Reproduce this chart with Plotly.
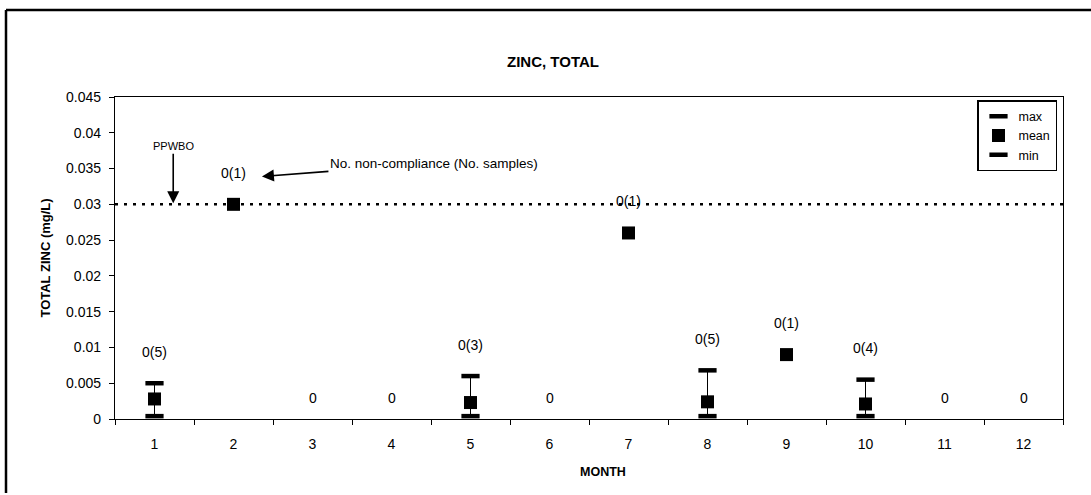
import plotly.graph_objects as go

# Monthly total zinc summary (mg/L)
months = list(range(1, 13))
zinc_max = [0.005, None, None, None, 0.006, None, None, 0.0068, None, 0.0055, None, None]
zinc_mean = [0.0028, 0.030, None, None, 0.0023, None, 0.026, 0.0024, 0.009, 0.0021, None, None]
zinc_min = [0.0004, None, None, None, 0.0004, None, None, 0.0004, None, 0.0004, None, None]
count_labels = ["0(5)", "0(1)", "0", "0", "0(3)", "0", "0(1)", "0(5)", "0(1)", "0(4)", "0", "0"]
ppwbo_limit = 0.03

FONT = "Liberation Sans, Arial, sans-serif"
L, R, T, B = 115, 28, 97, 76
W, H = 1091, 495
PW, PH = W - L - R, H - T - B

# error bar spans from min to max around the mean
err_plus = [(mx - mn) if (mx is not None and mn is not None) else 0
            for mx, mn in zip(zinc_max, zinc_mean)]
err_minus = [(mn - lo) if (mn is not None and lo is not None) else 0
             for mn, lo in zip(zinc_mean, zinc_min)]

fig = go.Figure()

fig.add_trace(go.Scatter(
    x=months, y=zinc_max, mode="markers", name="max",
    marker=dict(symbol="line-ew", size=13, line=dict(width=4.5, color="black")),
))
fig.add_trace(go.Scatter(
    x=months, y=zinc_mean, mode="markers", name="mean",
    marker=dict(symbol="square", size=13, color="black"),
    error_y=dict(type="data", symmetric=False, array=err_plus, arrayminus=err_minus,
                 color="black", thickness=1, width=0),
))
fig.add_trace(go.Scatter(
    x=months, y=zinc_min, mode="markers", name="min",
    marker=dict(symbol="line-ew", size=13, line=dict(width=4.5, color="black")),
))

# PPWBO objective line
fig.add_shape(type="line", xref="paper", x0=0, x1=1, yref="y", y0=ppwbo_limit, y1=ppwbo_limit,
              line=dict(color="black", width=2.5, dash="3px,6px"))

# sample-count labels above each month
for m, lab, mx, mn in zip(months, count_labels, zinc_max, zinc_mean):
    top = mx if mx is not None else mn
    ylab = top + 0.0044 if top is not None else 0.003
    fig.add_annotation(x=m, y=ylab, text=lab, showarrow=False,
                       font=dict(family=FONT, size=14, color="black"))

fig.add_annotation(x=1.237, y=ppwbo_limit, text="PPWBO", showarrow=True,
                   arrowhead=2, arrowsize=1.5, arrowwidth=1.6, arrowcolor="black",
                   ax=0, ay=-58, standoff=1,
                   font=dict(family=FONT, size=11, color="black"))
fig.add_annotation(x=2.36, y=0.0339, text="No. non-compliance (No. samples)", showarrow=True,
                   arrowhead=2, arrowsize=1.5, arrowwidth=1.6, arrowcolor="black",
                   ax=172, ay=-13,
                   font=dict(family=FONT, size=13.5, color="black"))

# x-axis title
fig.add_annotation(xref="paper", yref="paper", x=(603 - L) / PW, y=-(472 - (H - B)) / PH,
                   text="<b>MONTH</b>", showarrow=False, xanchor="center", yanchor="middle",
                   font=dict(family=FONT, size=12.5, color="black"))

# outer frame lines (top and left)
fig.add_shape(type="line", xref="paper", yref="paper",
              x0=(6 - L) / PW, x1=(W - L) / PW, y0=1 + (T - 10) / PH, y1=1 + (T - 10) / PH,
              line=dict(color="black", width=2.5))
fig.add_shape(type="line", xref="paper", yref="paper",
              x0=(6 - L) / PW, x1=(6 - L) / PW, y0=1 + (T - 10) / PH, y1=-(B - 2) / PH,
              line=dict(color="black", width=2.5))

fig.update_layout(
    width=W, height=H,
    margin=dict(l=L, r=R, t=T, b=B),
    paper_bgcolor="white", plot_bgcolor="white",
    font=dict(family=FONT, size=14, color="black"),
    title=dict(text="<b>ZINC, TOTAL</b>", x=553 / W, xanchor="center", y=1 - 62 / H,
               yanchor="middle", font=dict(family=FONT, size=15)),
    legend=dict(x=(1057 - L) / PW, y=1 - 3 / PH, xanchor="right", yanchor="top",
                bordercolor="black", borderwidth=1.5, bgcolor="white",
                font=dict(family=FONT, size=12.5), itemwidth=30, tracegroupgap=0),
    showlegend=True,
)
fig.update_xaxes(
    range=[0.5, 12.5], tickvals=months, ticktext=[str(m) for m in months],
    ticks="", showgrid=False, zeroline=False,
    showline=True, linecolor="black", linewidth=1.2, mirror=True,
    minor=dict(tick0=0.5, dtick=1, ticks="outside", ticklen=5, tickcolor="black", showgrid=False),
    tickfont=dict(family=FONT, size=14), ticklabelstandoff=12,
)
fig.update_yaxes(
    range=[0, 0.045], dtick=0.005, tick0=0,
    ticks="outside", ticklen=5, tickcolor="black",
    showgrid=False, zeroline=False,
    showline=True, linecolor="black", linewidth=1.2, mirror=True,
    tickfont=dict(family=FONT, size=14), ticklabelstandoff=5,
    title=dict(text="<b>TOTAL ZINC (mg/L)</b>", font=dict(family=FONT, size=13), standoff=12),
)

fig.write_html("out.html")
